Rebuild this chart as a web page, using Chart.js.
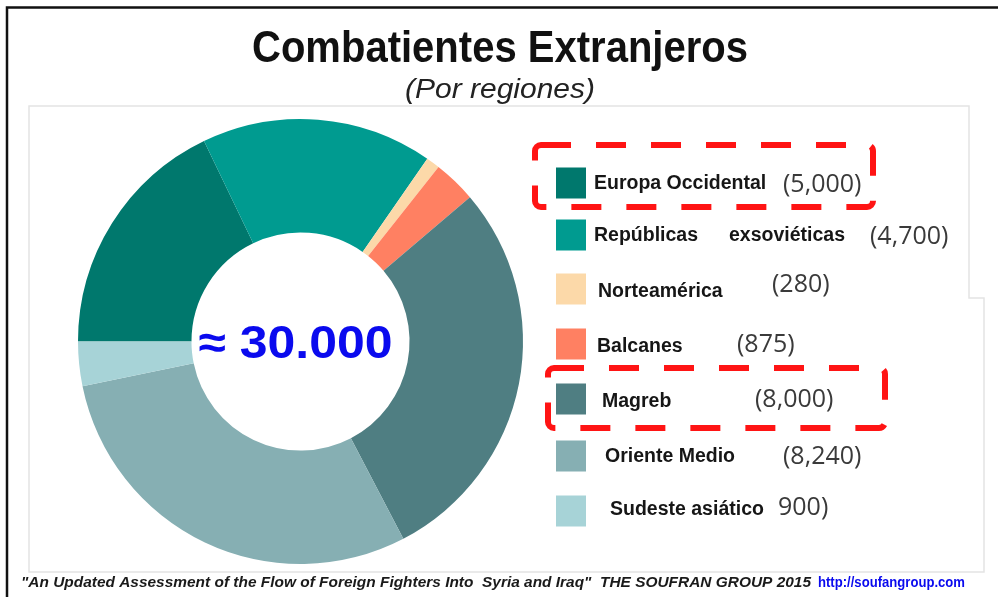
<!DOCTYPE html>
<html>
<head>
<meta charset="utf-8">
<script src="https://cdn.jsdelivr.net/npm/chart.js"></script>
<style>
  html, body { margin: 0; padding: 0; background: #fff; }
  canvas { display: block; }
</style>
</head>
<body>
<canvas id="chart" width="998" height="597"></canvas>
<script>
// datos
const regiones = ['Europa Occidental', 'Repúblicas exsoviéticas', 'Norteamérica', 'Balcanes', 'Magreb', 'Oriente Medio', 'Sudeste asiático'];
const combatientes = [5000, 4700, 280, 875, 8000, 8240, 900];
const etiquetasValor = ['(5,000)', '(4,700)', '(280)', '(875)', '(8,000)', '(8,240)', '900)'];
const destacados = ['Europa Occidental', 'Magreb'];
const colores = ['#00786d', '#009b90', '#fcd9a9', '#ff8062', '#4f7e82', '#86afb3', '#a7d3d7'];
const titulo = 'Combatientes Extranjeros';
const subtitulo = '(Por regiones)';
const totalTexto = '≈ 30.000';
const fuente = '"An Updated Assessment of the Flow of Foreign Fighters Into  Syria and Iraq"  THE SOUFRAN GROUP 2015';
const enlace = 'http://soufangroup.com';

// posiciones de la leyenda (solo maquetacion)
const muestraY = [183, 235, 289, 344, 399, 456, 511];
const textoY = [184, 236, 292, 347, 402, 457, 510];
const valorY = [185, 237, 285, 345, 400, 457, 508];
const textoX = [[594], [594, 729], [598], [597], [602], [605], [610]];
const valorX = [783, 870, 772, 737, 755, 783, 778];
const cajas = { 'Europa Occidental': [535, 145, 338, 62], 'Magreb': [548, 368, 337, 60] };

// texto ajustado a un ancho (la imagen original usa letra estrecha)
function textoAjustado(ctx, txt, x, y, ancho, align) {
  const w = ctx.measureText(txt).width;
  ctx.save();
  let x0 = x;
  if (align === 'center') x0 = x - ancho / 2;
  ctx.translate(x0, y);
  ctx.scale(ancho / w, 1);
  ctx.textAlign = 'left';
  ctx.fillText(txt, 0, 0);
  ctx.restore();
}

const dibujo = {
  id: 'dibujo',
  beforeDraw(chart) {
    const ctx = chart.ctx;
    ctx.save();
    ctx.strokeStyle = '#e4e4e4';
    ctx.lineWidth = 1.5;
    ctx.beginPath();
    ctx.moveTo(29, 106); ctx.lineTo(969, 106); ctx.lineTo(969, 298);
    ctx.lineTo(984, 298); ctx.lineTo(984, 572); ctx.lineTo(29, 572);
    ctx.closePath();
    ctx.stroke();
    ctx.strokeStyle = '#111';
    ctx.lineWidth = 2.5;
    ctx.beginPath();
    ctx.moveTo(7, 597); ctx.lineTo(7, 7.5); ctx.lineTo(998, 7.5);
    ctx.stroke();
    ctx.restore();
  },
  afterDraw(chart) {
    const ctx = chart.ctx;
    const ds = chart.data.datasets[0];
    ctx.save();
    ctx.textBaseline = 'alphabetic';

    // titulo
    ctx.fillStyle = '#111';
    ctx.font = 'bold 44px "Liberation Sans", Arial, sans-serif';
    textoAjustado(ctx, titulo, 500, 62, 496, 'center');
    ctx.fillStyle = '#222';
    ctx.font = 'italic 28px "Liberation Sans", Arial, sans-serif';
    textoAjustado(ctx, subtitulo, 500, 98, 190, 'center');

    // centro
    const arco = chart.getDatasetMeta(0).data[0];
    ctx.fillStyle = '#0a0aee';
    ctx.font = 'bold 46px "Liberation Sans", Arial, sans-serif';
    textoAjustado(ctx, totalTexto, arco.x - 5, 358, 194, 'center');

    // leyenda
    chart.data.labels.forEach((lab, i) => {
      ctx.fillStyle = ds.backgroundColor[i];
      ctx.fillRect(556, muestraY[i] - 15.5, 30, 31);

      ctx.fillStyle = '#161616';
      ctx.font = 'bold 19.5px "Liberation Sans", Arial, sans-serif';
      ctx.textBaseline = 'middle';
      const palabras = textoX[i].length > 1 ? lab.split(' ') : [lab];
      palabras.forEach((p, k) => ctx.fillText(p, textoX[i][k], textoY[i]));

      ctx.fillStyle = '#3a3a3a';
      ctx.font = '25px "Open Sans", "Liberation Sans", sans-serif';
      ctx.fillText(etiquetasValor[i], valorX[i], valorY[i]);

      if (destacados.includes(lab)) {
        const c = cajas[lab];
        ctx.strokeStyle = '#ff1414';
        ctx.lineWidth = 6;
        ctx.setLineDash([30, 25]);
        ctx.beginPath();
        ctx.roundRect(c[0], c[1], c[2], c[3], 6);
        ctx.stroke();
        ctx.setLineDash([]);
      }
    });

    // fuente
    ctx.textBaseline = 'alphabetic';
    ctx.fillStyle = '#1a1a1a';
    ctx.font = 'italic bold 15px "Liberation Sans", Arial, sans-serif';
    textoAjustado(ctx, fuente, 21, 587, 790, 'left');
    ctx.fillStyle = '#0a0aee';
    ctx.font = 'bold 15px "Liberation Sans", Arial, sans-serif';
    textoAjustado(ctx, enlace, 818, 587, 147, 'left');
    ctx.restore();
  }
};

new Chart(document.getElementById('chart'), {
  type: 'doughnut',
  data: {
    labels: regiones,
    datasets: [{
      data: combatientes,
      backgroundColor: colores,
      borderWidth: 0
    }]
  },
  options: {
    responsive: false,
    animation: false,
    rotation: -90,
    cutout: '49%',
    layout: { padding: { left: 78, top: 118, right: 475, bottom: 32 } },
    plugins: {
      legend: { display: false },
      tooltip: { enabled: false },
      title: { display: false }
    }
  },
  plugins: [dibujo]
});
</script>
</body>
</html>
